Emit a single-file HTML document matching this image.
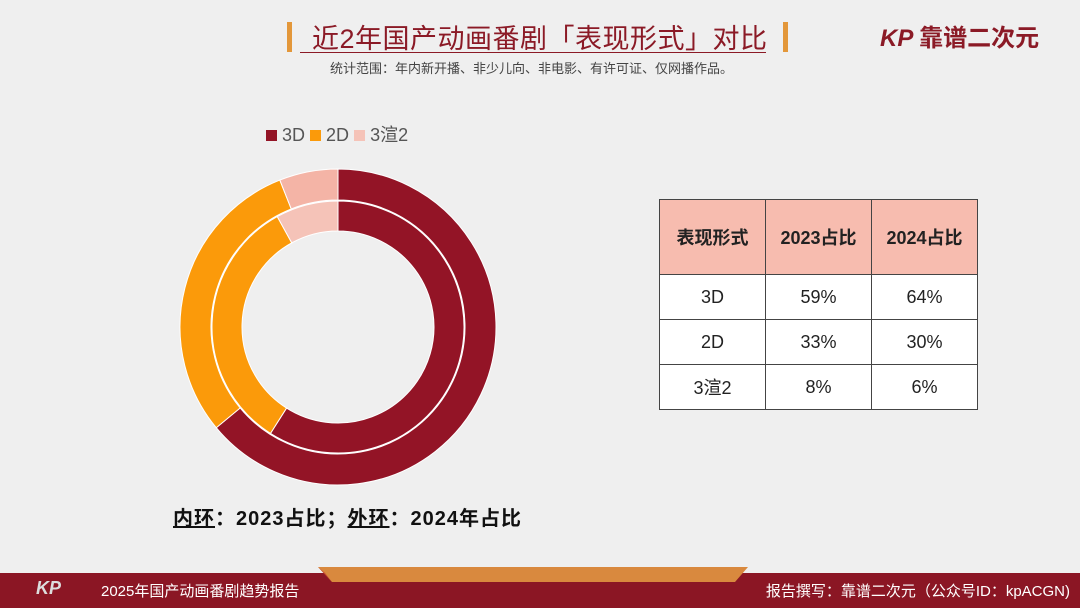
<!DOCTYPE html>
<html><head><meta charset="utf-8"><style>
body{margin:0;width:1080px;height:608px;background:#efefef;overflow:hidden;position:relative;font-family:"Liberation Sans","Noto Sans CJK SC",sans-serif}
.abs{position:absolute}
table{border-collapse:collapse;position:absolute;left:659px;top:199px;background:#fff}
td{border:1px solid #444;width:105px;text-align:center;font-size:18px;color:#222;height:44px;padding:0}
tr.h td{background:#f7bcaf;height:74px;font-weight:bold}
</style></head><body>
<div class="abs" style="left:287px;top:22px;width:5px;height:30px;background:#e3973a"></div>
<div class="abs" style="left:312px;top:17px;font-size:27px;letter-spacing:0.5px;color:#8b1a26;white-space:nowrap">近2年国产动画番剧「表现形式」对比</div>
<div class="abs" style="left:300px;top:52px;width:466px;height:1px;background:#8b1a26"></div>
<div class="abs" style="left:783px;top:22px;width:5px;height:30px;background:#e3973a"></div>
<div class="abs" style="left:330px;top:58px;font-size:13px;color:#444;white-space:nowrap">统计范围：年内新开播、非少儿向、非电影、有许可证、仅网播作品。</div>
<div class="abs" style="left:880px;top:18px;font-size:24px;font-weight:bold;color:#8b1a26;font-style:italic;white-space:nowrap">KP <span style="font-style:normal">靠谱二次元</span></div>

<div class="abs" style="left:266px;top:121px;font-size:18px;color:#555;white-space:nowrap">
<span><span style="display:inline-block;width:11px;height:11px;background:#931426"></span> 3D</span>
<span><span style="display:inline-block;width:11px;height:11px;background:#fb9a0a"></span> 2D</span>
<span><span style="display:inline-block;width:11px;height:11px;background:#f5c3b8"></span> 3渲2</span>
</div>

<svg id="donut" class="abs" style="left:0;top:0" width="1080" height="608"></svg>

<div class="abs" style="left:173px;top:502px;font-size:20px;letter-spacing:1px;font-weight:bold;color:#111;white-space:nowrap"><u>内环</u>：2023占比；<u>外环</u>：2024年占比</div>

<table>
<tr class="h"><td>表现形式</td><td>2023占比</td><td>2024占比</td></tr>
<tr><td>3D</td><td>59%</td><td>64%</td></tr>
<tr><td>2D</td><td>33%</td><td>30%</td></tr>
<tr><td>3渲2</td><td>8%</td><td>6%</td></tr>
</table>

<div class="abs" style="left:0;top:573px;width:1080px;height:35px;background:#8b1624"></div>
<svg class="abs" style="left:0;top:560px" width="1080" height="30"><polygon points="318,7 748,7 735,22 332,22" fill="#d9893e"/><polygon points="318,7 332,22 325,13" fill="#c4452e"/></svg>
<div class="abs" style="left:36px;top:578px;font-size:18px;font-style:italic;color:#ddd;font-weight:bold">KP</div>
<div class="abs" style="left:101px;top:580px;font-size:15px;color:#fff;white-space:nowrap">2025年国产动画番剧趋势报告</div>
<div class="abs" style="right:10px;top:580px;font-size:15px;color:#fff;white-space:nowrap">报告撰写：靠谱二次元（公众号ID：kpACGN)</div>

<script>
const categories=["3D","2D","3渲2"];
const values2023=[59,33,8];
const values2024=[64,30,6];
const colors=["#931426","#fb9a0a","#f5c3b8"];
const colorsOuter=["#931426","#fb9a0a","#f4b4a6"];
const cx=338,cy=327;
const svg=document.getElementById('donut');
function pt(r,a){return [cx+r*Math.sin(a),cy-r*Math.cos(a)];}
function ring(vals,r0,r1,cols,name){
 const tot=vals.reduce((a,b)=>a+b,0);let a=0;
 vals.forEach((v,i)=>{
  const a2=a+v/tot*2*Math.PI;const large=(a2-a)>Math.PI?1:0;
  const p1=pt(r1,a),p2=pt(r1,a2),p3=pt(r0,a2),p4=pt(r0,a);
  const p=document.createElementNS("http://www.w3.org/2000/svg","path");
  p.setAttribute("d",`M${p1[0]},${p1[1]} A${r1},${r1} 0 ${large} 1 ${p2[0]},${p2[1]} L${p3[0]},${p3[1]} A${r0},${r0} 0 ${large} 0 ${p4[0]},${p4[1]}Z`);
  p.setAttribute("fill",cols[i]);p.setAttribute("stroke","#fff");p.setAttribute("stroke-width","1");
  
  
  svg.appendChild(p);a=a2;
 });
}
ring(values2024,127,158,colorsOuter,'outer-slice');
ring(values2023,96,126,colors,'inner-slice');
</script>
</body></html>
